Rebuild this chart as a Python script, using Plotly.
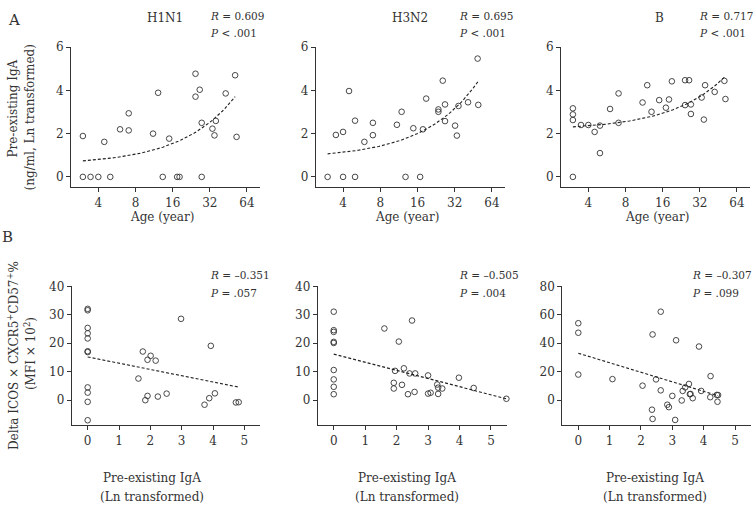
import numpy as np
import plotly.graph_objects as go

# ---------------- data ----------------
# Row A: age (years) vs pre-existing IgA (ng/ml, Ln transformed)
h1n1_age = [3.0, 3.0, 3.46, 4.0, 5.0, 4.47, 6.0, 7.05, 7.05, 11.1, 12.2, 13.3, 15.0, 17.4, 18.2,
            24.5, 24.5, 26.5, 27.5, 27.5, 33.6, 34.9, 35.8, 43.0, 51.3, 52.7]
h1n1_iga = [1.89, 0, 0, 0, 0, 1.62, 2.2, 2.15, 2.94, 2.0, 3.89, 0, 1.77, 0, 0,
            4.77, 3.71, 4.03, 2.5, 0, 2.23, 1.92, 2.59, 3.86, 4.7, 1.85]

h3n2_age = [3.0, 3.5, 4.0, 4.0, 4.47, 5.0, 5.0, 5.95, 6.97, 6.97, 10.9, 11.9, 12.8, 14.8, 16.8,
            17.7, 18.8, 23.6, 23.6, 25.6, 26.7, 26.7, 32.2, 33.3, 34.3, 41.0, 49.0, 49.6]
h3n2_iga = [0, 1.94, 2.08, 0, 3.97, 2.6, 0, 1.62, 2.5, 1.93, 2.41, 3.01, 0, 2.25, 0,
            2.2, 3.62, 3.12, 3.01, 4.45, 3.35, 2.58, 2.37, 1.91, 3.28, 3.45, 5.47, 3.33]

b_age = [3.0, 3.0, 3.0, 3.0, 3.49, 4.0, 4.5, 4.97, 4.97, 6.0, 7.03, 7.03, 11.0, 12.0, 13.0,
         15.0, 17.0, 18.0, 19.0, 24.3, 24.3, 26.2, 27.1, 27.1, 33.1, 34.5, 35.3, 42.2, 50.6, 51.6]
b_iga = [3.17, 2.89, 2.63, 0, 2.4, 2.4, 2.08, 2.37, 1.1, 3.14, 3.86, 2.5, 3.44, 4.24, 3.01,
         3.55, 3.2, 3.58, 4.42, 4.47, 3.32, 4.47, 3.35, 2.91, 3.67, 2.65, 4.24, 3.93, 4.44, 3.6]

# fitted trend lines (intercept, slope vs age; age span)
fit_a_intercept = [0.555, 0.848, 2.17]
fit_a_slope = [0.0615, 0.0722, 0.0482]
fit_a_span = [[3.0, 51.3], [3.0, 49.6], [3.0, 50.6]]

# Row B: pre-existing IgA vs Delta ICOS x CXCR5+CD57+%
h1n1_b_iga = [0, 0, 0, 0, 0, 0, 0, 0, 0, 0, 0,
              1.62, 1.76, 1.84, 1.91, 1.91, 2.01, 2.17, 2.22, 2.24, 2.52, 2.98,
              3.73, 3.88, 3.93, 4.06, 4.73, 4.82]
h1n1_b_delta = [-7.05, -0.58, 2.66, 4.5, 16.9, 17.2, 21.7, 23.5, 25.4, 31.6, 32.1,
                7.6, 17.1, 0.0, 1.5, 14.2, 15.6, 13.9, 40.8, 1.27, 2.3, 28.6,
                -1.6, 0.7, 19.1, 2.4, -0.8, -0.7]

h3n2_b_iga = [0, 0, 0, 0, 0, 0, 0, 0, 0,
              1.61, 1.95, 1.91, 1.91, 2.07, 2.17, 2.23, 2.36, 2.41, 2.49, 2.57, 2.59,
              3.0, 3.0, 3.08, 3.29, 3.32, 3.32, 3.45, 3.98, 4.45, 5.49]
h3n2_b_delta = [31.1, 24.6, 24.0, 20.5, 20.1, 10.6, 7.3, 4.7, 2.1,
                25.2, 10.3, 6.1, 4.1, 20.6, 5.4, 11.2, 2.1, 9.4, 28.0, 2.9, 9.4,
                8.7, 2.3, 2.6, 5.5, 4.4, 2.2, 4.1, 7.9, 4.3, 0.5]

b_b_iga = [0, 0, 0, 1.09, 2.05, 2.37, 2.35, 2.37, 2.48, 2.63, 2.63, 2.84, 2.89, 3.0, 3.09,
           3.12, 3.30, 3.33, 3.41, 3.53, 3.56, 3.58, 3.65, 3.85, 3.92, 4.22, 4.21, 4.42, 4.46, 4.44]
b_b_delta = [54.1, 47.4, 18.0, 14.8, 10.2, 46.2, -6.7, -13.2, 14.6, 6.9, 62.2, -3.2, -4.9, 3.0, -13.9,
             42.1, -0.2, 6.5, 9.0, 11.4, 4.2, 4.4, 1.4, 37.7, 6.5, 16.9, 2.1, 3.7, 3.6, -1.1]

fit_b_intercept = [15.2, 16.2, 33.0]
fit_b_slope = [-2.2, -2.86, -6.7]
fit_b_span = [[0, 4.81], [0, 5.49], [0, 4.44]]

panel_names = ["H1N1", "H3N2", "B"]
stats_a = [("0.609", "< .001"), ("0.695", "< .001"), ("0.717", "< .001")]
stats_b = [("–0.351", "= .057"), ("–0.505", "= .004"), ("–0.307", "= .099")]
age_ticks = [4, 8, 16, 32, 64]
iga_ticks = [0, 1, 2, 3, 4, 5]

# ---------------- layout helpers ----------------
W, H = 753, 505
FONT = "DejaVu Serif"
INK = "#333333"

def px(x):
    return x / W

def py(y):
    return 1 - y / H

top_x = [(71, 260), (315.7, 505), (561, 750)]
top_y = (40.7, 182.7)
bot_x = [(71.7, 260), (317.7, 506.7), (562.3, 750.7)]
bot_y = (283.3, 424.3)

fig = go.Figure()

marker = dict(symbol="circle-open", size=5.6, color=INK, line=dict(width=0.9, color=INK))
dash_line = dict(color="#222222", width=1.1, dash="3px,2px")

top_data = [(h1n1_age, h1n1_iga), (h3n2_age, h3n2_iga), (b_age, b_iga)]
bot_data = [(h1n1_b_iga, h1n1_b_delta), (h3n2_b_iga, h3n2_b_delta), (b_b_iga, b_b_delta)]

for i in range(3):
    ax = "" if i == 0 else str(i + 1)
    xa, ya = "x" + ax, "y" + ax
    ages, vals = top_data[i]
    fig.add_trace(go.Scatter(x=ages, y=vals, mode="markers", marker=marker,
                             xaxis=xa, yaxis=ya, cliponaxis=False, showlegend=False))
    lo, hi = fit_a_span[i]
    fx = np.exp(np.linspace(np.log(lo), np.log(hi), 60))
    fy = fit_a_intercept[i] + fit_a_slope[i] * fx
    fig.add_trace(go.Scatter(x=fx, y=fy, mode="lines", line=dash_line,
                             xaxis=xa, yaxis=ya, showlegend=False))

for i in range(3):
    ax = str(i + 4)
    xa, ya = "x" + ax, "y" + ax
    xs, ys = bot_data[i]
    fig.add_trace(go.Scatter(x=xs, y=ys, mode="markers", marker=marker,
                             xaxis=xa, yaxis=ya, cliponaxis=False, showlegend=False))
    lo, hi = fit_b_span[i]
    fx = np.array([lo, hi])
    fy = fit_b_intercept[i] + fit_b_slope[i] * fx
    fig.add_trace(go.Scatter(x=fx, y=fy, mode="lines", line=dash_line,
                             xaxis=xa, yaxis=ya, showlegend=False))

axis_common = dict(showgrid=False, zeroline=False, showline=True, linecolor=INK, linewidth=1,
                   ticks="outside", ticklen=4, tickwidth=1, tickcolor=INK,
                   tickfont=dict(family=FONT, size=12, color=INK), fixedrange=True)

layout = dict(width=W, height=H, margin=dict(l=0, r=0, t=0, b=0),
              paper_bgcolor="white", plot_bgcolor="white",
              font=dict(family=FONT, size=12, color=INK), showlegend=False)

log_lo, log_hi = 1.265, 6.35  # log2 of age span shown
for i in range(3):
    n = "" if i == 0 else str(i + 1)
    layout["xaxis" + n] = dict(axis_common, type="log",
                               range=[log_lo * np.log10(2), log_hi * np.log10(2)],
                               tickvals=age_ticks, ticktext=[str(t) for t in age_ticks],
                               domain=[px(top_x[i][0]), px(top_x[i][1])],
                               anchor="y" + n)
    layout["yaxis" + n] = dict(axis_common, range=[-0.475, 6], tickvals=[0, 2, 4, 6],
                               domain=[py(top_y[1]), py(top_y[0])], anchor="x" + n)

bot_yrange = [[-8.87, 40], [-8.87, 40], [-17.75, 80]]
bot_yticks = [[0, 10, 20, 30, 40], [0, 10, 20, 30, 40], [0, 20, 40, 60, 80]]
for i in range(3):
    n = str(i + 4)
    layout["xaxis" + n] = dict(axis_common, range=[-0.51, 5.5], tickvals=iga_ticks,
                               domain=[px(bot_x[i][0]), px(bot_x[i][1])], anchor="y" + n)
    layout["yaxis" + n] = dict(axis_common, range=bot_yrange[i], tickvals=bot_yticks[i],
                               domain=[py(bot_y[1]), py(bot_y[0])], anchor="x" + n)

fig.update_layout(**layout)

ann = []

def text(x, y, s, size=12, xanchor="center", angle=0):
    ann.append(dict(x=px(x), y=py(y), xref="paper", yref="paper", text=s, showarrow=False,
                    xanchor=xanchor, yanchor="middle", textangle=angle,
                    font=dict(family=FONT, size=size, color=INK)))

# panel letters
text(14, 13, "A", size=15)
text(8, 233, "B", size=15)

STAT_SIZE = 10.5
# top row titles and stats
title_cx = [165, 410, 659]
stat_top_x = [208, 456.7, 696.7]
for i in range(3):
    text(title_cx[i], 11, panel_names[i], size=12)
    text(stat_top_x[i], 9, "<i>R</i> = " + stats_a[i][0], size=STAT_SIZE, xanchor="left")
    text(stat_top_x[i], 26, "<i>P</i> " + stats_a[i][1], size=STAT_SIZE, xanchor="left")

# bottom row stats
stat_bot_x = [208, 456.7, 690]
for i in range(3):
    text(stat_bot_x[i], 272, "<i>R</i> = " + stats_b[i][0], size=STAT_SIZE, xanchor="left")
    text(stat_bot_x[i], 290, "<i>P</i> " + stats_b[i][1], size=STAT_SIZE, xanchor="left")

# x-axis titles
age_cx = [162, 407, 657]
for i in range(3):
    text(age_cx[i], 213, "Age (year)", size=12)
iga_cx = [152, 407, 655]
for i in range(3):
    text(iga_cx[i], 478, "Pre-existing IgA", size=12)
    text(iga_cx[i], 497, "(Ln transformed)", size=12)

# y-axis titles
text(13, 103, "Pre-existing IgA", size=12, angle=-90)
text(30, 112, "(ng/ml, Ln transformed)", size=12, angle=-90)
text(13, 354, "Delta ICOS × CXCR5<sup>+</sup>CD57<sup>+</sup>%", size=12, angle=-90)
text(30, 352, "(MFI × 10<sup>2</sup>)", size=12, angle=-90)

fig.update_layout(annotations=ann)
fig.write_html("out.html", config={"displayModeBar": False},
               post_script="document.body.style.margin='0';document.body.style.padding='0';")
